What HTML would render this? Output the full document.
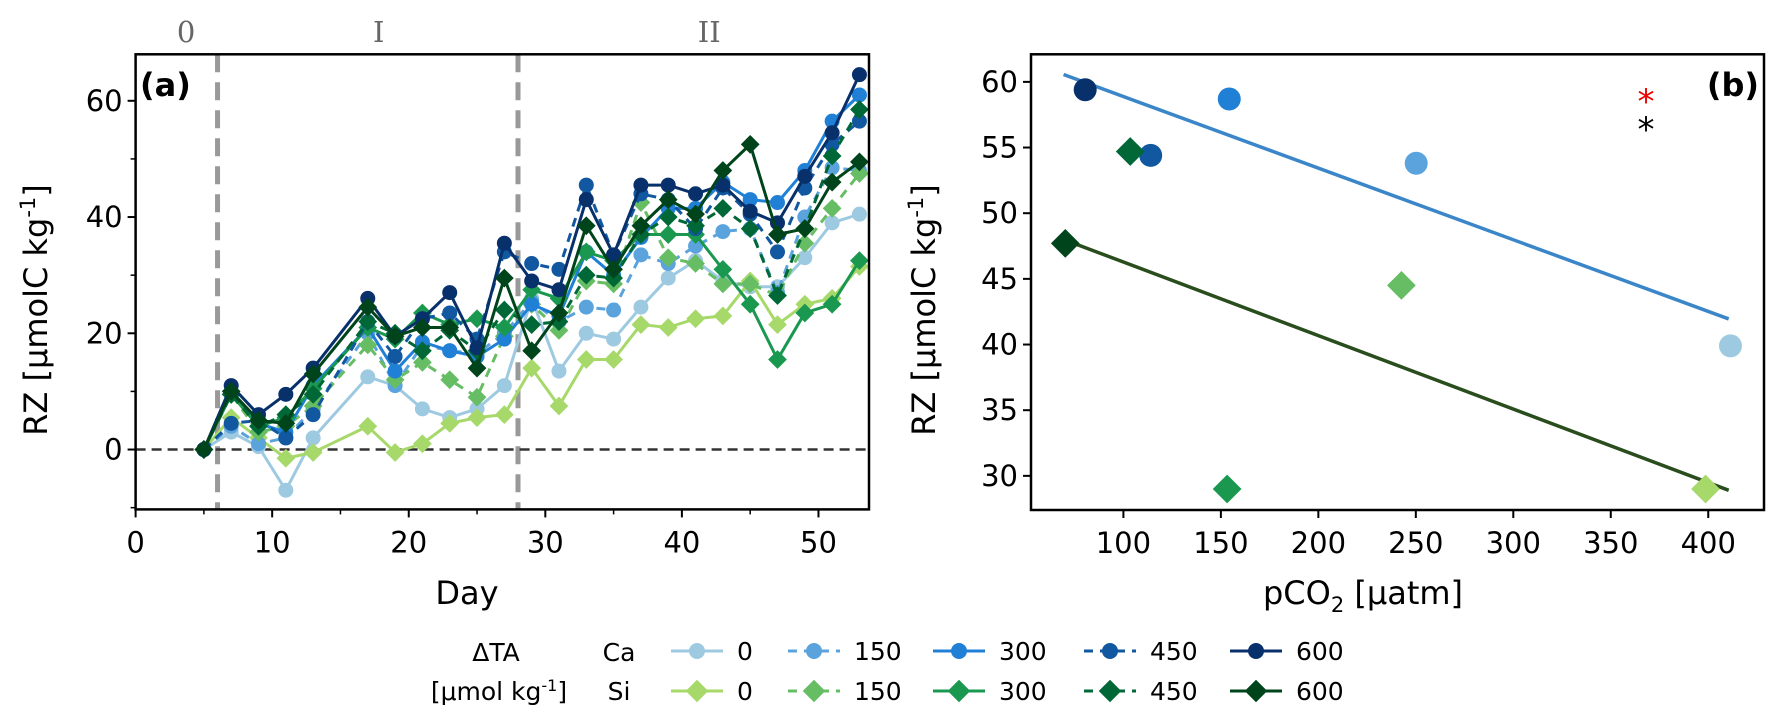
<!DOCTYPE html>
<html><head><meta charset="utf-8"><style>
html,body{margin:0;padding:0;background:#fff;}
svg{display:block;font-family:"DejaVu Sans","Liberation Sans",sans-serif;}
</style></head><body>
<svg id="fig" width="1783" height="718" viewBox="0 0 1783 718" xmlns="http://www.w3.org/2000/svg">
<g id="pa"></g>
<g id="pb"></g>
<g id="leg"></g>
</svg>
<script>
const days=[5,7,9,11,13,17,19,21,23,25,27,29,31,33,35,37,39,41,43,45,47,49,51,53];
const ca0=[0,3,0.5,-7,2,12.5,11,7,5.5,7,11,26,13.5,20,19,24.5,29.5,32.5,29,28,28,33,39,40.5];
const si0=[0,5.5,2,-1.5,-0.5,4,-0.5,1,4.5,5.5,6,14,7.5,15.5,15.5,21.5,21,22.5,23,29,21.5,25,26,31.5];
const ca150=[0,4,1,2,7,20,11,18,17,16.5,20,25.5,22,24.5,24,33.5,32,35,37.5,38,27,40,48.5,48];
const si150=[0,9.5,3,4,7.5,18,12,15,12,9,19.5,25,20.5,29,28.5,42.5,33,32,28.5,28.5,26.5,35.5,41.5,47.5];
const ca300=[0,9.5,4.5,3,11,21,13.5,18.5,17,16,19,25,23,34,30,36.5,41.5,41.5,46,43,42.5,48,56.5,61];
const si300=[0,9.5,4,5.5,10.5,21,19,23.5,21.5,22.5,21,27.5,26,34,32.5,37,37,37,31,25,15.5,23.5,25,32.5];
const ca450=[0,4.5,5,2,6,22,16,22.5,23.5,19,34,32,31,45.5,33.5,44,43,38,45,40.5,34,45,52.5,56.5];
const si450=[0,9.5,4,6,9.5,22,20,17,20.5,17,24,21.5,22,30,29.5,37,40,38.5,41.5,38,26.5,38,50.5,58.5];
const ca600=[0,11,6,9.5,14,26,19.5,22.5,27,17.5,35.5,29,27.5,43,33.5,45.5,45.5,44,45.5,41,39,47,54.5,64.5];
const si600=[0,10,5,4.5,13,24.5,19.5,21,21,14,29.5,17,23.5,38.5,31,38.5,43,40.5,48,52.5,37,38,46,49.5];
const xTicksA=[0,10,20,30,40,50];
const yTicksA=[0,20,40,60];
const phaseDays=[6,28];
const phaseLabels=["0","I","II"];
const phaseLabelDays=[3.7,17.8,42];
// panel b (index = ΔTA level 0,150,300,450,600)
const bCaX=[411.4,250.2,154.3,114,80.4];
const bCaY=[39.9,53.8,58.7,54.4,59.4];
const bSiX=[398.6,242.6,153.2,103.5,70.2];
const bSiY=[29.0,44.5,29.0,54.7,47.7];
const bCaFit=[[69.3,60.56],[410.5,41.95]];
const bSiFit=[[69.3,48.0],[410.5,28.9]];
const xTicksB=[100,150,200,250,300,350,400];
const yTicksB=[30,35,40,45,50,55,60];
const taLevels=["0","150","300","450","600"];

const caCol=["#9ecae1","#5ba3dc","#2080d6","#1158a0","#08306b"];
const siCol=["#a6d96a","#66bd63","#1a9850","#006837","#00441b"];
const dashes=[null,"9,7",null,"9,7",null];
const caSeries=[ca0,ca150,ca300,ca450,ca600];
const siSeries=[si0,si150,si300,si450,si600];

const NS="http://www.w3.org/2000/svg";
function mk(tag,attrs,parent){const e=document.createElementNS(NS,tag);for(const k in attrs)e.setAttribute(k,attrs[k]);parent.appendChild(e);return e;}

// ---- Panel A
const A={l:135.6,r:869,t:54.3,b:509.4,x0:0,x1:53.7,y0:-10.3,y1:68};
const ax=d=>A.l+(d-A.x0)/(A.x1-A.x0)*(A.r-A.l);
const ay=v=>A.b-(v-A.y0)/(A.y1-A.y0)*(A.b-A.t);
const pa=document.getElementById('pa');
let e;
phaseDays.forEach((d,i)=>{e=mk('line',{x1:ax(d),x2:ax(d),y1:A.t,y2:A.b,stroke:'#999','stroke-width':5,'stroke-dasharray':'18,10'},pa);
});
phaseLabels.forEach((t,i)=>{e=mk('text',{x:ax(phaseLabelDays[i]),y:42,'text-anchor':'middle','font-size':29,fill:'#666','font-family':'DejaVu Serif, Liberation Serif, serif'},pa);e.textContent=t;
});
e=mk('line',{x1:A.l,x2:A.r,y1:ay(0),y2:ay(0),stroke:'#333','stroke-width':2.5,'stroke-dasharray':'10,6'},pa);

function marker(par,shape,x,y,r,col){let m;
 if(shape==='c'){m=mk('circle',{cx:x,cy:y,r:r,fill:col},par);}
 else{const s=r*1.25;m=mk('polygon',{points:`${x},${y-s} ${x+s},${y} ${x},${y+s} ${x-s},${y}`,fill:col},par);}
 return m;}
function series(vals,col,dash,shape,name){
 const g=mk('g',{},pa);
 const pts=days.map((d,i)=>ax(d)+','+ay(vals[i])).join(' ');
 const a={points:pts,fill:'none',stroke:col,'stroke-width':3,'stroke-linejoin':'round'};if(dash)a['stroke-dasharray']=dash;
 e=mk('polyline',a,g);
 days.forEach((d,i)=>{const m=marker(g,shape,ax(d),ay(vals[i]),7.5,col);});
}
for(let i=0;i<5;i++){series(caSeries[i],caCol[i],dashes[i],'c','ca-'+taLevels[i]);series(siSeries[i],siCol[i],dashes[i],'d','si-'+taLevels[i]);}
e=mk('rect',{x:A.l,y:A.t,width:A.r-A.l,height:A.b-A.t,fill:'none',stroke:'#000','stroke-width':2.5},pa);

xTicksA.forEach(t=>{mk('line',{x1:ax(t),x2:ax(t),y1:A.b,y2:A.b+8,stroke:'#000','stroke-width':2},pa);
 e=mk('text',{x:ax(t),y:A.b+43,'text-anchor':'middle','font-size':29},pa);e.textContent=t;});
[5,15,25,35,45].forEach(t=>mk('line',{x1:ax(t),x2:ax(t),y1:A.b,y2:A.b+5,stroke:'#000','stroke-width':1.5},pa));
yTicksA.forEach(t=>{mk('line',{x1:A.l-8,x2:A.l,y1:ay(t),y2:ay(t),stroke:'#000','stroke-width':2},pa);
 e=mk('text',{x:A.l-13,y:ay(t)+10,'text-anchor':'end','font-size':29},pa);e.textContent=t;});
[-10,10,30,50].forEach(t=>mk('line',{x1:A.l-5,x2:A.l,y1:ay(t),y2:ay(t),stroke:'#000','stroke-width':1.5},pa));
e=mk('text',{x:140,y:96,'font-size':32,'font-weight':'bold'},pa);e.textContent='(a)';
e=mk('text',{x:467,y:604,'text-anchor':'middle','font-size':32},pa);e.textContent='Day';
e=mk('text',{transform:'translate(47,310) rotate(-90)','text-anchor':'middle','font-size':32},pa);
e.innerHTML='RZ [μmolC kg<tspan dy="-12" font-size="21">-1</tspan><tspan dy="12">]</tspan>';

// ---- Panel B
const B={l:1031,r:1764,t:54.3,b:510,x0:52.6,x1:428.6,y0:27.4,y1:62.1};
const bx=v=>B.l+(v-B.x0)/(B.x1-B.x0)*(B.r-B.l);
const by=v=>B.b-(v-B.y0)/(B.y1-B.y0)*(B.b-B.t);
const pb=document.getElementById('pb');
e=mk('line',{x1:bx(bCaFit[0][0]),y1:by(bCaFit[0][1]),x2:bx(bCaFit[1][0]),y2:by(bCaFit[1][1]),stroke:'#3a86c8','stroke-width':3.5},pb);

e=mk('line',{x1:bx(bSiFit[0][0]),y1:by(bSiFit[0][1]),x2:bx(bSiFit[1][0]),y2:by(bSiFit[1][1]),stroke:'#2a4d1e','stroke-width':3.5},pb);

for(let i=0;i<5;i++){
 e=marker(pb,'c',bx(bCaX[i]),by(bCaY[i]),11.5,caCol[i]);
 e=marker(pb,'d',bx(bSiX[i]),by(bSiY[i]),11.5,siCol[i]);
}
e=mk('rect',{x:B.l,y:B.t,width:B.r-B.l,height:B.b-B.t,fill:'none',stroke:'#000','stroke-width':2.5},pb);

xTicksB.forEach(t=>{mk('line',{x1:bx(t),x2:bx(t),y1:B.b,y2:B.b+8,stroke:'#000','stroke-width':2},pb);
 e=mk('text',{x:bx(t),y:B.b+43,'text-anchor':'middle','font-size':29},pb);e.textContent=t;});
yTicksB.forEach(t=>{mk('line',{x1:B.l-8,x2:B.l,y1:by(t),y2:by(t),stroke:'#000','stroke-width':2},pb);
 e=mk('text',{x:B.l-13,y:by(t)+10,'text-anchor':'end','font-size':29},pb);e.textContent=t;});
e=mk('text',{x:1646,y:113,'text-anchor':'middle','font-size':34,fill:'#e00'},pb);e.textContent='*';
e=mk('text',{x:1646,y:141,'text-anchor':'middle','font-size':34,fill:'#000'},pb);e.textContent='*';
e=mk('text',{x:1759,y:96,'text-anchor':'end','font-size':32,'font-weight':'bold'},pb);e.textContent='(b)';
e=mk('text',{x:1363,y:604,'text-anchor':'middle','font-size':32},pb);
e.innerHTML='pCO<tspan dy="8" font-size="21">2</tspan><tspan dy="-8"> [μatm]</tspan>';
e=mk('text',{transform:'translate(935,310) rotate(-90)','text-anchor':'middle','font-size':32},pb);
e.innerHTML='RZ [μmolC kg<tspan dy="-12" font-size="21">-1</tspan><tspan dy="12">]</tspan>';

// ---- Legend
const lg=document.getElementById('leg');
e=mk('text',{x:496,y:661,'text-anchor':'middle','font-size':25},lg);e.textContent='ΔTA';
e=mk('text',{x:499,y:700,'text-anchor':'middle','font-size':25},lg);e.innerHTML='[μmol kg<tspan dy="-9" font-size="16">-1</tspan><tspan dy="9">]</tspan>';
e=mk('text',{x:619,y:661,'text-anchor':'middle','font-size':25},lg);e.textContent='Ca';
e=mk('text',{x:619,y:700,'text-anchor':'middle','font-size':25},lg);e.textContent='Si';
const legX=[671,788,933,1084,1230];
const rows=[651,691];
for(let i=0;i<5;i++){
 [0,1].forEach(r=>{
  const g=mk('g',{},lg);
  
  
  const col=r?siCol[i]:caCol[i];const y=rows[r];
  const a={x1:legX[i],x2:legX[i]+52,y1:y,y2:y,stroke:col,'stroke-width':3};if(dashes[i])a['stroke-dasharray']='9,7';
  mk('line',a,g);
  marker(g,r?'d':'c',legX[i]+26,y,r?9:8,col);
  const t=mk('text',{x:legX[i]+66,y:y+9,'font-size':25},g);t.textContent=taLevels[i];
 });
}
</script>
</body></html>
